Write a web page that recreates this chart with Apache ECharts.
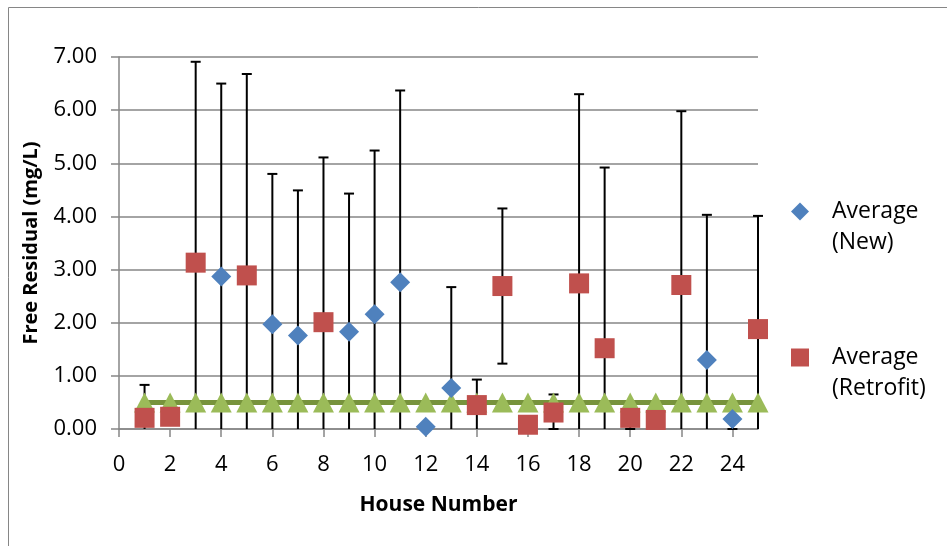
<!DOCTYPE html>
<html>
<head>
<meta charset="utf-8">
<script src="https://cdn.jsdelivr.net/npm/echarts@6/dist/echarts.min.js"></script>
<style>
html,body{margin:0;padding:0;background:#fff;}
#chart{width:947px;height:546px;}
</style>
</head>
<body>
<div id="chart"></div>
<script>
// ---- data ----
var houses = [1,2,3,4,5,6,7,8,9,10,11,12,13,14,15,16,17,18,19,20,21,22,23,24,25];
var standardValues = [0.5,0.5,0.5,0.5,0.5,0.5,0.5,0.5,0.5,0.5,0.5,0.5,0.5,0.5,0.5,0.5,0.5,0.5,0.5,0.5,0.5,0.5,0.5,0.5,0.5];

var newHouses = [4,6,7,9,10,11,12,13,23,24];
var newAverage = [2.87,1.97,1.76,1.83,2.16,2.76,0.04,0.77,1.30,0.19];

var retroHouses = [1,2,3,5,8,14,15,16,17,18,19,20,21,22,25];
var retroAverage = [0.21,0.23,3.13,2.89,2.01,0.45,2.69,0.08,0.31,2.74,1.52,0.21,0.17,2.71,1.88];

var errHouses = [1,3,4,5,6,7,8,9,10,11,13,14,15,17,18,19,20,22,23,24,25];
var errLow  = [-0.41,-0.65,-0.76,-0.90,-0.86,-0.97,-1.09,-0.77,-0.92,-0.85,-1.13,-0.03,1.23,0.00,-0.82,-1.88,0.00,-0.56,-1.43,0.00,-0.25];
var errHigh = [0.83,6.91,6.50,6.68,4.80,4.49,5.11,4.43,5.24,6.37,2.67,0.93,4.15,0.65,6.30,4.92,0.42,5.98,4.03,0.38,4.01];

var xTickValues = [0,2,4,6,8,10,12,14,16,18,20,22,24];
var seriesNames = ['Average (New)', 'Average (Retrofit)'];

// ---- build ----
function zip(a, b) { return a.map(function (v, i) { return [v, b[i]]; }); }
var errData = errHouses.map(function (h, i) { return [h, errLow[i], errHigh[i]]; });

var FONT = '"Open Sans", "Noto Sans", sans-serif';
var GRAY = '#868686';

function legendCfg(name, top) {
  return {
    orient: 'vertical', left: 786, top: top,
    data: [name], itemWidth: 18, itemHeight: 18,
    formatter: function (n) { return '\n' + n.replace(' ', '\n'); },
    textStyle: { fontFamily: FONT, fontSize: 23, color: '#000', lineHeight: 31, padding: [0, 0, 0, 18] }
  };
}

var chart = echarts.init(document.getElementById('chart'));
chart.setOption({
  animation: false,
  backgroundColor: '#fff',
  textStyle: { fontFamily: FONT },
  graphic: [{
    type: 'rect', silent: true, z: -10,
    shape: { x: 8.5, y: 7.5, width: 1000, height: 600 },
    style: { fill: 'none', stroke: GRAY, lineWidth: 1 }
  }],
  grid: { left: 119, right: 189, top: 57, bottom: 117 },
  legend: [legendCfg(seriesNames[0], 160), legendCfg(seriesNames[1], 306)],
  xAxis: {
    type: 'value', min: 0, max: 25, interval: 2,
    name: 'House Number', nameLocation: 'middle', nameGap: 66,
    nameTextStyle: { fontFamily: FONT, fontSize: 21, fontWeight: 'bold', color: '#000' },
    axisLine: { show: true, onZero: false, lineStyle: { color: GRAY, width: 1.5 } },
    axisTick: { show: true, length: 8, customValues: xTickValues, lineStyle: { color: GRAY, width: 1.5 } },
    axisLabel: { margin: 25, showMaxLabel: false, fontFamily: FONT, fontSize: 22, color: '#000' },
    splitLine: { show: false }
  },
  yAxis: {
    type: 'value', min: 0, max: 7, interval: 1,
    name: 'Free Residual (mg/L)', nameLocation: 'middle', nameGap: 78, nameRotate: 90,
    nameTextStyle: { fontFamily: FONT, fontSize: 20, fontWeight: 'bold', color: '#000' },
    axisLine: { show: true, lineStyle: { color: GRAY, width: 1.5 } },
    axisTick: { show: true, length: 8, lineStyle: { color: GRAY, width: 1.5 } },
    axisLabel: { margin: 22, fontFamily: FONT, fontSize: 22, color: '#000',
      formatter: function (v) { return v.toFixed(2); } },
    splitLine: { show: true, lineStyle: { color: GRAY, width: 1.5 } }
  },
  series: [{
    type: 'custom', name: 'err', z: 2, clip: false,
    data: errData,
    renderItem: function (params, api) {
      var x = api.value(0);
      var loVal = api.value(1);
      var lo = api.coord([x, Math.max(loVal, 0)]);
      var hi = api.coord([x, api.value(2)]);
      var cw = 5;
      var st = { stroke: '#000', lineWidth: 2 };
      var kids = [
        { type: 'line', shape: { x1: lo[0], y1: lo[1], x2: hi[0], y2: hi[1] }, style: st },
        { type: 'line', shape: { x1: hi[0] - cw, y1: hi[1], x2: hi[0] + cw, y2: hi[1] }, style: st }
      ];
      if (loVal >= 0) {
        kids.push({ type: 'line', shape: { x1: lo[0] - cw, y1: lo[1], x2: lo[0] + cw, y2: lo[1] }, style: st });
      }
      return { type: 'group', children: kids };
    }
  }, {
    type: 'line', name: 'Standard', z: 3,
    data: zip(houses, standardValues),
    symbol: 'triangle', symbolSize: [21, 20], showAllSymbol: true,
    lineStyle: { color: '#77933C', width: 5 },
    itemStyle: { color: '#9BBB59', opacity: 1 },
    clip: false
  }, {
    type: 'scatter', name: seriesNames[0], z: 4,
    data: zip(newHouses, newAverage),
    symbol: 'diamond', symbolSize: 20,
    itemStyle: { color: '#4F81BD', opacity: 1 },
    clip: false
  }, {
    type: 'scatter', name: seriesNames[1], z: 4,
    data: zip(retroHouses, retroAverage),
    symbol: 'rect', symbolSize: 20,
    itemStyle: { color: '#C0504D', opacity: 1 },
    clip: false
  }]
});
</script>
</body>
</html>
